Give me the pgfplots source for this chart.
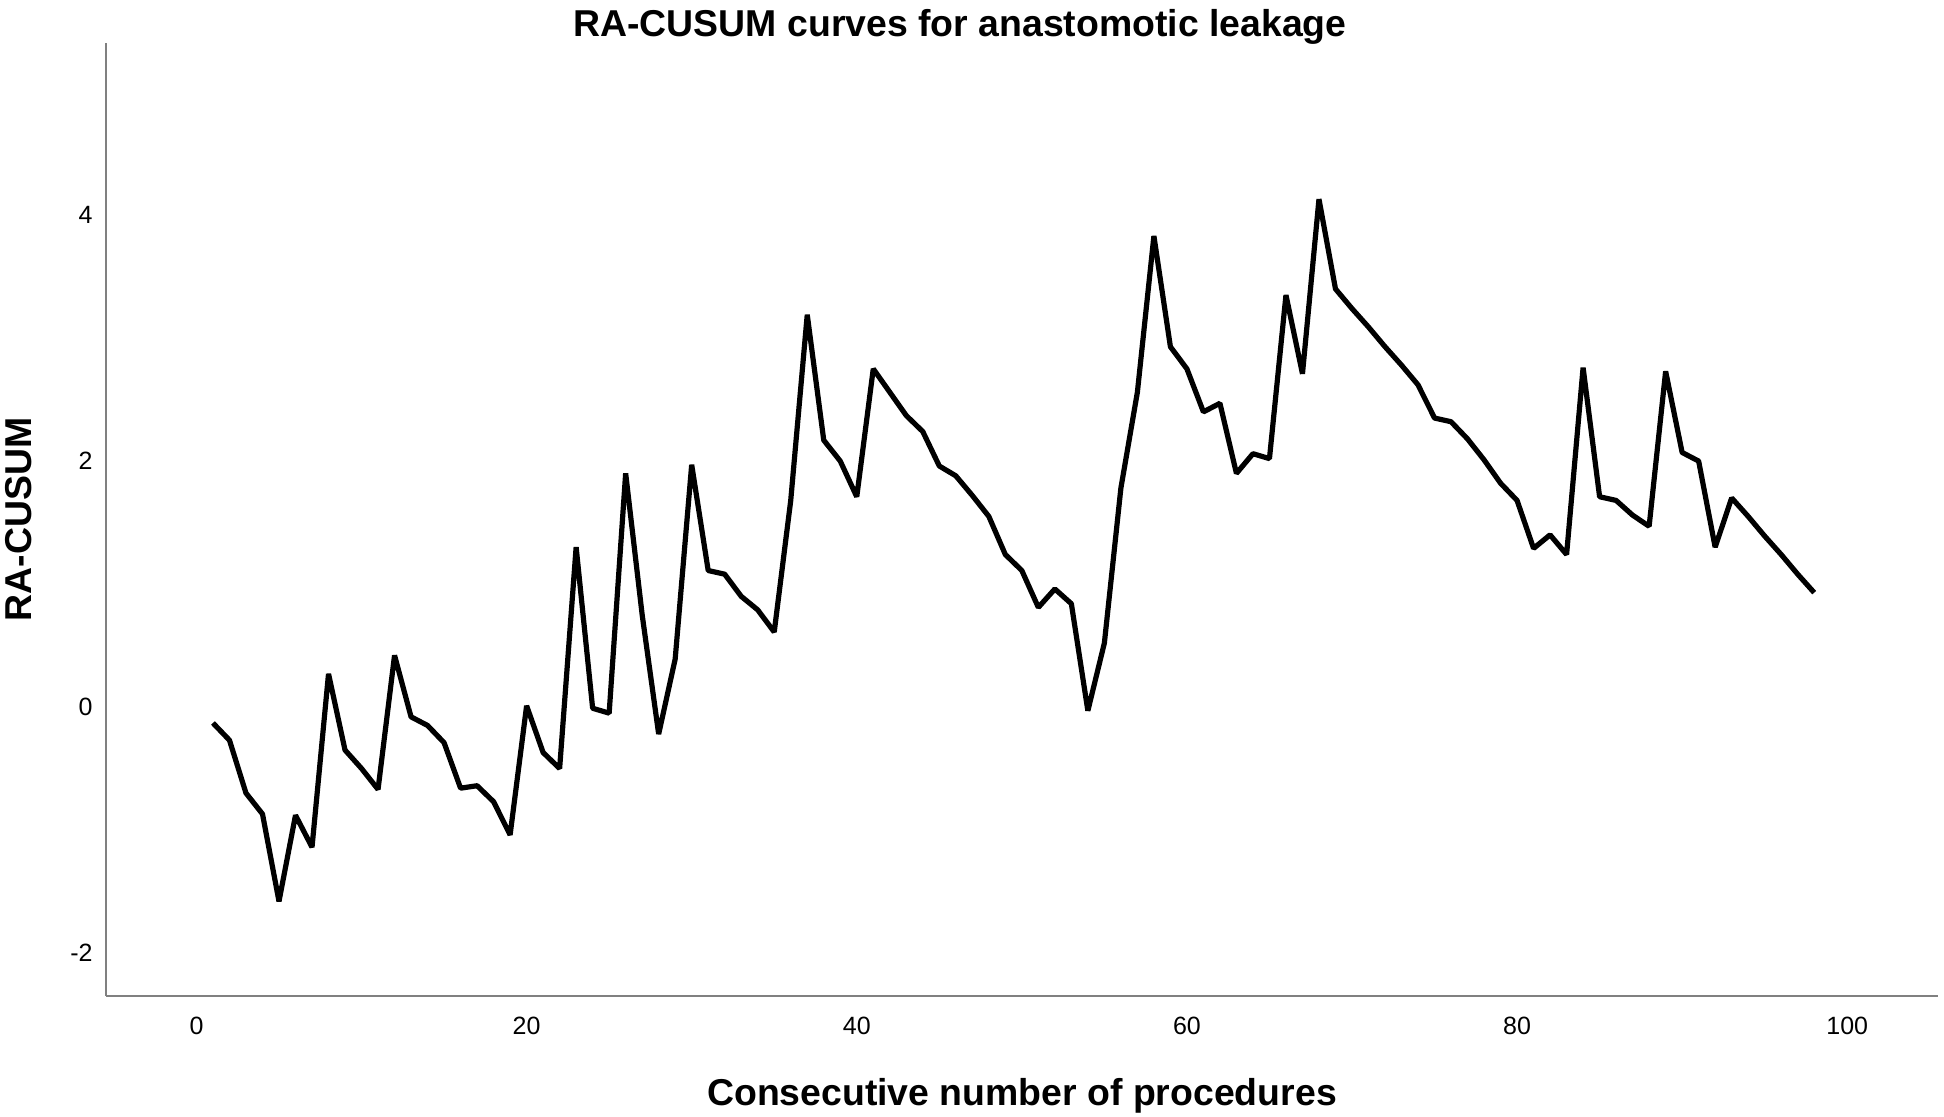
\documentclass[border=0pt]{standalone}
\usepackage{fontspec}
\setmainfont{Liberation Sans}
\usepackage{pgfplots}
\pgfplotsset{compat=1.18}
\begin{document}
\begin{tikzpicture}
\begin{axis}[
  at={(0,0)}, anchor=south west,
  scale only axis, width=916pt, height=476.5pt,
  xmin=-5.48, xmax=105.5, ymin=-2.35, ymax=5.40,
  axis x line*=bottom, axis y line*=left,
  axis line style={draw=black!50, line width=1.3pt},
  xtick={0,20,40,60,80,100}, ytick={-2,0,2,4},
  major tick length=0pt, tick style={draw=none},
  /pgf/number format/assume math mode=true,
  ticklabel style={font=\fontsize{12.5}{15}\selectfont, inner sep=0pt},
  xticklabel style={anchor=base, yshift=-19.5pt},
  yticklabel style={anchor=east, xshift=-6.5pt},
  every axis title shift=0pt,
  title={RA-CUSUM curves for anastomotic leakage},
  title style={at={(axis description cs:0.4662,1.0063)}, anchor=base, font=\fontsize{18.7}{22}\selectfont\bfseries},
  xlabel={Consecutive number of procedures},
  xlabel style={at={(axis description cs:0.5,-0.1154)}, anchor=base, font=\fontsize{18.7}{22}\selectfont\bfseries},
  ylabel={RA-CUSUM},
  ylabel style={at={(axis description cs:-0.0404,0.5)}, anchor=base, rotate=0, font=\fontsize{18.7}{22}\selectfont\bfseries},
  clip=false,
]
\addplot[black, line width=2.6pt, line join=bevel] coordinates {
(1,-0.13) (2,-0.27) (3,-0.70) (4,-0.87) (5,-1.58) (6,-0.88) (7,-1.14) (8,0.27) (9,-0.35) (10,-0.50)
(11,-0.67) (12,0.42) (13,-0.08) (14,-0.15) (15,-0.29) (16,-0.66) (17,-0.64) (18,-0.77) (19,-1.04) (20,0.01)
(21,-0.37) (22,-0.50) (23,1.30) (24,-0.01) (25,-0.05) (26,1.90) (27,0.75) (28,-0.22) (29,0.39) (30,1.97)
(31,1.11) (32,1.08) (33,0.90) (34,0.79) (35,0.61) (36,1.68) (37,3.19) (38,2.17) (39,2.00) (40,1.71)
(41,2.75) (42,2.56) (43,2.37) (44,2.24) (45,1.96) (46,1.88) (47,1.72) (48,1.55) (49,1.24) (50,1.11)
(51,0.81) (52,0.96) (53,0.84) (54,-0.03) (55,0.52) (56,1.78) (57,2.56) (58,3.83) (59,2.93) (60,2.75)
(61,2.40) (62,2.47) (63,1.90) (64,2.06) (65,2.02) (66,3.35) (67,2.71) (68,4.13) (69,3.40) (70,3.24)
(71,3.09) (72,2.93) (73,2.78) (74,2.62) (75,2.35) (76,2.32) (77,2.18) (78,2.01) (79,1.82) (80,1.68)
(81,1.29) (82,1.40) (83,1.24) (84,2.76) (85,1.71) (86,1.68) (87,1.56) (88,1.47) (89,2.73) (90,2.07)
(91,2.00) (92,1.30) (93,1.70) (94,1.55) (95,1.39) (96,1.24) (97,1.08) (98,0.93)
};
\end{axis}
\pgfresetboundingbox
\path[use as bounding box] (-53pt,-60.5pt) rectangle (919pt,498pt);
\end{tikzpicture}
\end{document}
